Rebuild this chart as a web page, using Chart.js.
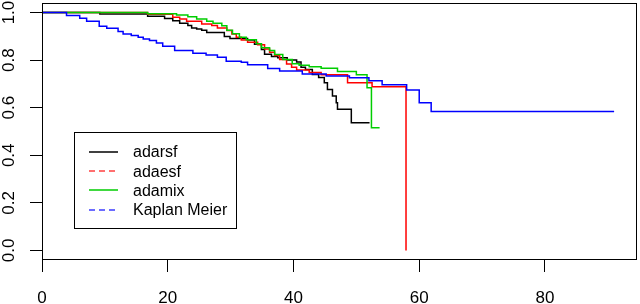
<!DOCTYPE html>
<html>
<head>
<meta charset="utf-8">
<script src="https://cdn.jsdelivr.net/npm/chart.js@4/dist/chart.umd.min.js"></script>
<style>
  html, body { margin: 0; padding: 0; background: #fff; }
  #wrap { width: 640px; height: 304px; }
</style>
</head>
<body>
<div id="wrap"><canvas id="myChart" width="640" height="304"></canvas></div>
<script>
// values
const seriesNames = ['adarsf', 'adaesf', 'adamix', 'Kaplan Meier'];

const adarsfTime = [0, 9.2, 16.8, 19.5, 20.8, 21.9, 23.2, 23.8, 24.6, 25.4, 26.2, 29.0, 29.9, 32.7, 33.8, 34.9, 35.4,
    36.5, 37.5, 39.0, 40.5, 41.2, 41.9, 43.0, 44.0, 44.9, 45.4, 46.2, 46.8, 47.0, 49.2, 52.1];
const adarsfSurv = [1.0, 0.994, 0.984, 0.975, 0.965, 0.955, 0.945, 0.935, 0.931, 0.926, 0.916, 0.899, 0.891, 0.884, 0.867, 0.845, 0.825,
    0.815, 0.810, 0.800, 0.792, 0.770, 0.761, 0.740, 0.727, 0.705, 0.677, 0.649, 0.621, 0.593, 0.537, 0.537];

const adaesfTime = [0, 16.8, 20.8, 21.9, 23.0, 25.4, 27.0, 27.9, 29.4, 30.2, 30.9, 31.7, 32.7, 34.3, 35.4, 36.2, 37.0,
    37.8, 38.9, 39.7, 40.5, 42.5, 44.4, 48.6, 52.5, 57.9];
const adaesfSurv = [1.0, 0.993, 0.980, 0.973, 0.963, 0.952, 0.945, 0.935, 0.924, 0.910, 0.896, 0.885, 0.875, 0.865, 0.847, 0.833, 0.819,
    0.803, 0.784, 0.770, 0.758, 0.748, 0.738, 0.705, 0.688, 0.0];

const adamixTime = [0, 16.8, 21.4, 23.2, 24.6, 26.2, 27.2, 28.6, 29.4, 30.3, 31.4, 32.5, 34.1, 34.9, 36.2, 37.0, 38.3,
    39.8, 40.9, 42.5, 44.4, 47.0, 50.0, 51.7, 52.4, 53.7];
const adamixSurv = [1.0, 0.995, 0.990, 0.982, 0.973, 0.963, 0.955, 0.944, 0.926, 0.911, 0.896, 0.886, 0.869, 0.852, 0.840, 0.824, 0.803,
    0.785, 0.778, 0.772, 0.766, 0.752, 0.738, 0.684, 0.516, 0.516];

const kmTime = [0, 3.9, 6.0, 7.1, 9.1, 10.3, 12.1, 12.9, 14.2, 15.3, 16.1, 17.1, 18.2, 19.2, 21.1, 24.0, 26.1, 27.9,
    29.3, 31.7, 32.7, 35.9, 37.8, 41.4, 45.2, 48.9, 52.0, 54.1, 58.0, 60.0, 61.9, 91.0];
const kmSurv = [1.0, 0.987, 0.976, 0.963, 0.942, 0.934, 0.920, 0.910, 0.903, 0.896, 0.889, 0.882, 0.872, 0.858, 0.840, 0.829, 0.821, 0.812,
    0.795, 0.791, 0.781, 0.765, 0.754, 0.742, 0.733, 0.726, 0.713, 0.696, 0.674, 0.621, 0.584, 0.584];

const xTicks = [0, 20, 40, 60, 80];
const xTickLabels = ['0', '20', '40', '60', '80'];
const yTicks = [0, 0.2, 0.4, 0.6, 0.8, 1.0];
const yTickLabels = ['0.0', '0.2', '0.4', '0.6', '0.8', '1.0'];

const AXIS_FONT = '17px "Liberation Sans", Arial, sans-serif';
const LEGEND_FONT = '16px "Liberation Sans", Arial, sans-serif';

function toPoints(t, s) {
    let pts = [];
    for (let i = 0; i < t.length; i++) {
        pts.push({ x: t[i], y: s[i] });
    }
    return pts;
}

const colors = ['#000000', '#ff0000', '#00cd00', '#0000ff'];
const legendColors = ['#000000', '#ff4040', '#00cd00', '#3c3cff'];
const legendDash = [[], [6, 4], [], [6, 4]];

// box, rotated y labels, x labels and legend, R style
const rStyle = {
    id: 'rStyle',
    afterDraw(chart) {
        const ctx = chart.ctx;
        const a = chart.chartArea;
        const xs = chart.scales.x;
        const ys = chart.scales.y;
        ctx.save();
        ctx.strokeStyle = '#000';
        ctx.lineWidth = 1;
        ctx.strokeRect(Math.round(a.left) + 0.5, Math.round(a.top) + 0.5,
            Math.round(a.right - a.left) - 1, Math.round(a.bottom - a.top) - 1);

        ctx.fillStyle = '#000';
        ctx.font = AXIS_FONT;
        ctx.textAlign = 'center';
        ctx.textBaseline = 'alphabetic';
        for (let i = 0; i < xTicks.length; i++) {
            ctx.fillText(xTickLabels[i], xs.getPixelForValue(xTicks[i]), 302.5);
        }
        for (let i = 0; i < yTicks.length; i++) {
            ctx.save();
            ctx.translate(13.8, ys.getPixelForValue(yTicks[i]));
            ctx.rotate(-Math.PI / 2);
            ctx.fillText(yTickLabels[i], 0, 0);
            ctx.restore();
        }

        // legend
        ctx.strokeStyle = '#000';
        ctx.lineWidth = 1;
        ctx.strokeRect(74.5, 132.5, 162, 96);
        ctx.font = LEGEND_FONT;
        ctx.textAlign = 'left';
        ctx.textBaseline = 'middle';
        for (let i = 0; i < seriesNames.length; i++) {
            let yy = 152 + i * 19.2;
            ctx.beginPath();
            ctx.setLineDash(legendDash[i]);
            ctx.strokeStyle = legendColors[i];
            ctx.lineWidth = 1.5;
            ctx.moveTo(89, Math.round(yy));
            ctx.lineTo(118, Math.round(yy));
            ctx.stroke();
            ctx.setLineDash([]);
            ctx.fillStyle = '#000';
            ctx.fillText(seriesNames[i], 133, yy + 1);
        }
        ctx.restore();
    }
};

const allTimes = [adarsfTime, adaesfTime, adamixTime, kmTime];
const allSurv = [adarsfSurv, adaesfSurv, adamixSurv, kmSurv];

let datasets = [];
for (let i = 0; i < seriesNames.length; i++) {
    datasets.push({
        label: seriesNames[i],
        data: toPoints(allTimes[i], allSurv[i]),
        borderColor: colors[i],
        borderWidth: 1.5,
        pointRadius: 0,
        stepped: true,
        fill: false,
        order: 4 - i
    });
}

const ctx = document.getElementById('myChart');
const myChart = new Chart(ctx, {
    type: 'line',
    data: { datasets: datasets },
    options: {
        responsive: false,
        animation: false,
        events: [],
        layout: { padding: { top: 3, right: 3, left: 0, bottom: 0 } },
        plugins: { legend: { display: false }, tooltip: { enabled: false } },
        scales: {
            x: {
                type: 'linear',
                min: 0,
                max: 91 * 1.04,
                afterBuildTicks: (axis) => { axis.ticks = xTicks.map(v => ({ value: v })); },
                afterFit: (axis) => { axis.height = 44; },
                ticks: { display: false },
                border: { display: false },
                grid: { drawOnChartArea: false, drawTicks: true, tickLength: 12, color: '#000', lineWidth: 1 }
            },
            y: {
                type: 'linear',
                min: -0.04,
                max: 1.04,
                afterBuildTicks: (axis) => { axis.ticks = yTicks.map(v => ({ value: v })); },
                afterFit: (axis) => { axis.width = 42; },
                ticks: { display: false },
                border: { display: false },
                grid: { drawOnChartArea: false, drawTicks: true, tickLength: 12, color: '#000', lineWidth: 1 }
            }
        }
    },
    plugins: [rStyle]
});
</script>
</body>
</html>
